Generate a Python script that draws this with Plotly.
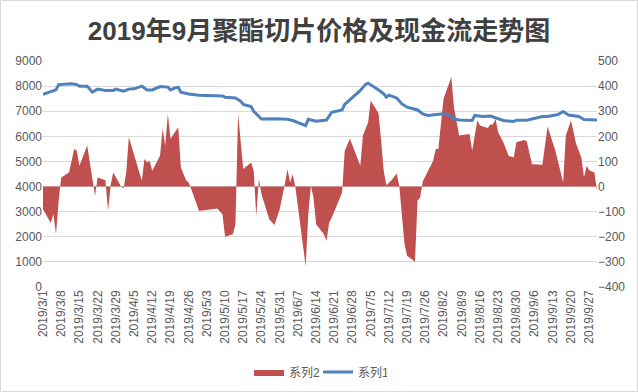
import plotly.graph_objects as go
from datetime import date, timedelta

title_text = "2019年9月聚酯切片价格及现金流走势图"

# 系列2: cash flow (right axis)
dates2 = ["2019-03-01","2019-03-02","2019-03-04","2019-03-05","2019-03-06","2019-03-07","2019-03-08",
          "2019-03-11","2019-03-13","2019-03-14","2019-03-15","2019-03-18","2019-03-20","2019-03-21",
          "2019-03-22","2019-03-25","2019-03-26","2019-03-27","2019-03-28","2019-03-31","2019-04-01",
          "2019-04-02","2019-04-03","2019-04-05","2019-04-08","2019-04-09","2019-04-10","2019-04-11",
          "2019-04-12","2019-04-15","2019-04-16","2019-04-17","2019-04-18","2019-04-19","2019-04-22",
          "2019-04-23","2019-04-25","2019-04-26","2019-04-27","2019-04-30","2019-05-07","2019-05-09",
          "2019-05-10","2019-05-13","2019-05-14","2019-05-15","2019-05-17","2019-05-20","2019-05-21",
          "2019-05-22","2019-05-23","2019-05-24","2019-05-27","2019-05-29","2019-05-31","2019-06-02",
          "2019-06-03","2019-06-04","2019-06-05","2019-06-06","2019-06-10","2019-06-11","2019-06-12",
          "2019-06-13","2019-06-14","2019-06-17","2019-06-18","2019-06-19","2019-06-20","2019-06-24",
          "2019-06-25","2019-06-27","2019-07-01","2019-07-02","2019-07-04","2019-07-05","2019-07-08",
          "2019-07-09","2019-07-10","2019-07-11","2019-07-13","2019-07-15","2019-07-16","2019-07-18",
          "2019-07-19","2019-07-21","2019-07-22","2019-07-23","2019-07-24","2019-07-25","2019-07-29",
          "2019-07-30","2019-07-31","2019-08-02","2019-08-03","2019-08-05","2019-08-06","2019-08-08",
          "2019-08-12","2019-08-13","2019-08-15","2019-08-16","2019-08-19","2019-08-20","2019-08-21",
          "2019-08-22","2019-08-23","2019-08-25","2019-08-27","2019-08-29","2019-08-30","2019-09-02",
          "2019-09-03","2019-09-05","2019-09-09","2019-09-10","2019-09-11","2019-09-14","2019-09-17",
          "2019-09-18","2019-09-20","2019-09-22","2019-09-24","2019-09-25","2019-09-26","2019-09-27",
          "2019-09-29","2019-09-30"]
values2 = [-90,-110,-145,-110,-190,-60,36,
           56,150,143,83,163,16,-37,
           36,25,-97,5,56,0,-8,
           56,196,130,23,110,96,103,
           63,123,230,163,290,190,236,
           76,25,16,-10,-97,-87,-110,
           -200,-190,-150,290,70,96,63,
           -117,29,-31,-130,-153,-90,10,
           70,16,49,0,-317,-110,3,
           -44,-150,-190,-217,-144,-124,-24,
           143,190,83,203,256,343,292,
           183,63,5,25,52,0,-230,
           -277,-290,-300,-57,-44,20,103,
           150,150,350,380,436,316,203,
           209,143,263,243,233,247,247,
           269,216,176,123,116,176,185,
           180,89,87,156,239,143,16,
           203,263,169,116,36,83,65,
           56,-17]

# 系列1: price (left axis)
dates1 = ["2019-03-01","2019-03-05","2019-03-06","2019-03-07","2019-03-12","2019-03-14","2019-03-15",
          "2019-03-18","2019-03-20","2019-03-22","2019-03-25","2019-03-28","2019-03-29","2019-04-01",
          "2019-04-03","2019-04-05","2019-04-08","2019-04-10","2019-04-12","2019-04-15","2019-04-18",
          "2019-04-19","2019-04-21","2019-04-22","2019-04-23","2019-04-26","2019-04-30","2019-05-09",
          "2019-05-10","2019-05-14","2019-05-16","2019-05-17","2019-05-20","2019-05-21","2019-05-24",
          "2019-05-29","2019-06-03","2019-06-05","2019-06-10","2019-06-11","2019-06-14","2019-06-18",
          "2019-06-20","2019-06-24","2019-06-25","2019-07-01","2019-07-03","2019-07-04","2019-07-06",
          "2019-07-08","2019-07-10","2019-07-11","2019-07-12","2019-07-15","2019-07-17","2019-07-19",
          "2019-07-23","2019-07-25","2019-07-27","2019-07-31","2019-08-02","2019-08-04","2019-08-06",
          "2019-08-08","2019-08-13","2019-08-14","2019-08-17","2019-08-20","2019-08-22","2019-08-25",
          "2019-08-29","2019-08-30","2019-09-03","2019-09-05","2019-09-09","2019-09-11","2019-09-15",
          "2019-09-17","2019-09-19","2019-09-23","2019-09-25","2019-09-30"]
values1 = [7670,7830,7850,8060,8090,8060,7990,
           7990,7760,7880,7830,7830,7880,7800,
           7880,7890,8000,7850,7850,7980,7960,
           7850,7940,7950,7760,7690,7640,7610,
           7560,7530,7400,7270,7190,7000,6690,
           6700,6680,6630,6430,6680,6600,6650,
           6960,7050,7270,7830,8070,8120,7990,
           7850,7690,7560,7640,7530,7290,7160,
           7050,6890,6830,6870,6900,6860,6700,
           6650,6630,6830,6790,6810,6730,6630,
           6590,6640,6640,6690,6790,6790,6870,
           6990,6850,6790,6670,6650]

left_ticks = list(range(0, 9001, 1000))
right_ticks = list(range(-400, 501, 100))
start = date(2019, 3, 1)
x_ticks = [start + timedelta(days=7 * i) for i in range(31)]
x_ticktext = [f"{d.year}/{d.month}/{d.day}" for d in x_ticks]

font_main = "Liberation Sans, Noto Sans CJK SC, sans-serif"
grey = "#595959"

fig = go.Figure()
fig.add_trace(go.Scatter(
    x=dates2, y=values2, name="系列2", mode="lines",
    line=dict(width=0, color="#C0504D"), fill="tozeroy",
    fillcolor="#C0504D", yaxis="y",
))
fig.add_trace(go.Scatter(
    x=dates1, y=values1, name="系列1", mode="lines",
    line=dict(width=3, color="#4F81BD"), yaxis="y2",
))

fig.update_layout(
    width=638, height=392,
    margin=dict(l=43, r=41, t=61, b=105, autoexpand=False),
    paper_bgcolor="white", plot_bgcolor="white",
    font=dict(family=font_main, size=12, color=grey),
    title=dict(text="<b>" + title_text + "</b>", x=0.5, xanchor="center",
               y=0.922, yanchor="middle",
               font=dict(size=26, color="#404040", family=font_main)),
    xaxis=dict(
        type="date", range=["2019-03-01", "2019-09-30"],
        tickvals=[d.isoformat() for d in x_ticks], ticktext=x_ticktext,
        tickangle=-90, showgrid=False, showline=False, zeroline=False,
        ticks="", ticklen=0, tickfont=dict(size=12, color=grey),
        automargin=False,
    ),
    yaxis=dict(
        side="right", range=[-400, 500], tickvals=right_ticks,
        showgrid=False, zeroline=False, showline=False, ticks="",
        tickfont=dict(size=12, color=grey), automargin=False,
    ),
    yaxis2=dict(
        side="left", overlaying="y", range=[0, 9000], tickvals=left_ticks,
        showgrid=True, gridcolor="#D9D9D9", gridwidth=1, zeroline=False,
        showline=False, ticks="", tickfont=dict(size=12, color=grey),
        automargin=False,
    ),
    legend=dict(orientation="h", x=(249 - 43) / 554, xanchor="left", y=-0.376,
                yanchor="middle", font=dict(size=12, color=grey),
                traceorder="normal", entrywidth=24, entrywidthmode="pixels"),
    shapes=[dict(type="rect", xref="paper", yref="paper",
                 x0=-42.5 / 554, x1=1 + 40.5 / 554,
                 y0=-104.5 / 226, y1=1 + 60.5 / 226,
                 line=dict(color="#D9D9D9", width=1), layer="below")],
)

fig.write_html("out.html", config={"displayModeBar": False},
               post_script="document.body.style.margin='0';document.body.style.padding='0';")
